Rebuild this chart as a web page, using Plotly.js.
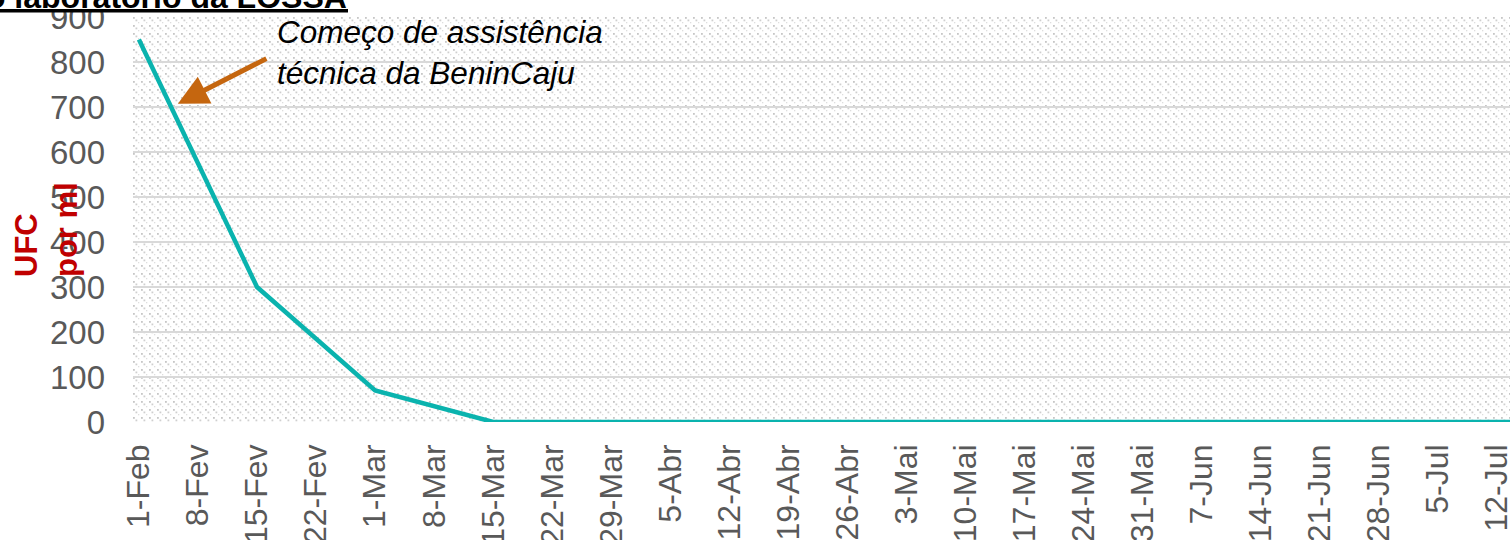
<!DOCTYPE html>
<html>
<head>
<meta charset="utf-8">
<script src="https://cdn.plot.ly/plotly-3.0.1.min.js"></script>
<style>html,body{margin:0;padding:0;background:#fff;}#chart{width:1510px;height:540px;}</style>
</head>
<body>
<div id="chart"></div>
<script>
// ---- data ----
const weeks = ['1-Feb','8-Fev','15-Fev','22-Fev','1-Mar','8-Mar','15-Mar','22-Mar','29-Mar','5-Abr','12-Abr','19-Abr','26-Abr','3-Mai','10-Mai','17-Mai','24-Mai','31-Mai','7-Jun','14-Jun','21-Jun','28-Jun','5-Jul','12-Jul','19-Jul'];
const tickLabels = weeks.slice(0, 24);
const ufc = [850,null,300,null,70,null,0,null,0,null,0,null,0,null,0,null,0,null,0,null,0,null,0,null,0];
const yTicks = [0,100,200,300,400,500,600,700,800,900];
const titleText = 'Resultados do laboratório da LOSSA';
const noteText = 'Começo de assistência<br>técnica da BeninCaju';
const yTitleText = 'UFC<br>por ml';

// ---- layout helpers (pixel -> paper) ----
const W = 1510, H = 540, ML = 133, MR = 0, MT = 17, MB = 118;
const PW = W - ML - MR, PH = H - MT - MB;
const px = x => (x - ML) / PW;
const py = y => (H - MB - y) / PH;

// background hatch pattern
const svg = `<svg xmlns="http://www.w3.org/2000/svg" width="${PW}" height="${PH}" viewBox="0 0 ${PW} ${PH}">
<defs><pattern id="p" width="8" height="8" patternUnits="userSpaceOnUse">
<rect x="0" y="0" width="1.8" height="1.8" fill="#c6c6c6"/>
<rect x="2.5" y="2.5" width="1.8" height="1.8" fill="#cfcfcf"/>
<rect x="5" y="5" width="1.3" height="1.3" fill="#dedede"/>
</pattern></defs>
<rect width="100%" height="100%" fill="url(#p)"/></svg>`;
const bgSrc = 'data:image/svg+xml;base64,' + btoa(svg);

const FONT = 'Arial, "Liberation Sans", sans-serif';

const trace = {
  x: weeks, y: ufc, type: 'scatter', mode: 'lines', connectgaps: true,
  line: {color: '#0AB3AE', width: 4.5}, hoverinfo: 'skip'
};

const layout = {
  width: W, height: H,
  margin: {l: ML, r: MR, t: MT, b: MB, pad: 0},
  paper_bgcolor: '#ffffff', plot_bgcolor: '#ffffff',
  showlegend: false,
  font: {family: FONT},
  xaxis: {
    type: 'category', categoryorder: 'array', categoryarray: weeks,
    range: [-0.1, 23.22], tickmode: 'array', tickvals: tickLabels, ticktext: tickLabels,
    tickangle: -90, tickfont: {size: 32, color: '#595959', family: FONT},
    showgrid: false, zeroline: false, showline: false, ticks: '', ticklabelstandoff: 15,
    ticklabeloverflow: 'allow'
  },
  yaxis: {
    range: [0, 900], tickmode: 'array', tickvals: yTicks,
    tickfont: {size: 33, color: '#595959', family: FONT},
    showgrid: true, gridcolor: '#D9D9D9', gridwidth: 2, zeroline: false, showline: false,
    ticks: '', ticklabelstandoff: 27, ticklabeloverflow: 'allow'
  },
  images: [{source: bgSrc, xref: 'paper', yref: 'paper', x: 0, y: 1, sizex: 1, sizey: 1,
            sizing: 'stretch', xanchor: 'left', yanchor: 'top', layer: 'below'}],
  shapes: [
    {type: 'rect', xref: 'paper', yref: 'paper', x0: px(0), x1: px(362), y0: py(9), y1: py(0),
     fillcolor: '#ffffff', line: {width: 0}, layer: 'above'},
    {type: 'rect', xref: 'paper', yref: 'paper', x0: px(0), x1: px(348), y0: py(12.5), y1: py(9),
     fillcolor: '#000000', line: {width: 0}, layer: 'above'}
  ],
  annotations: [
    {text: '<b>' + titleText + '</b>', xref: 'paper', yref: 'paper', x: px(348), y: py(16),
     xanchor: 'right', yanchor: 'bottom', showarrow: false, borderpad: 0,
     font: {size: 32, color: '#000000', family: FONT}},
    {text: '<i>' + noteText + '</i>', xref: 'paper', yref: 'paper', x: px(275), y: py(52),
     xanchor: 'left', yanchor: 'middle', align: 'left', showarrow: false,
     font: {size: 31.5, color: '#000000', family: FONT}},
    {text: '', xref: 'x', yref: 'y', x: 0.66, y: 707, ax: 90, ay: -46, axref: 'pixel', ayref: 'pixel',
     showarrow: true, arrowhead: 2, arrowsize: 1.2, arrowwidth: 5, arrowcolor: '#C5660F', standoff: 0},
    {text: '<b>' + yTitleText + '</b>', xref: 'paper', yref: 'paper', x: px(46), y: py(230),
     xanchor: 'center', yanchor: 'middle', textangle: -90, align: 'left', showarrow: false,
     font: {size: 31, color: '#C00000', family: FONT}}
  ]
};

Plotly.newPlot('chart', [trace], layout, {displayModeBar: false, staticPlot: true});
</script>
</body>
</html>
